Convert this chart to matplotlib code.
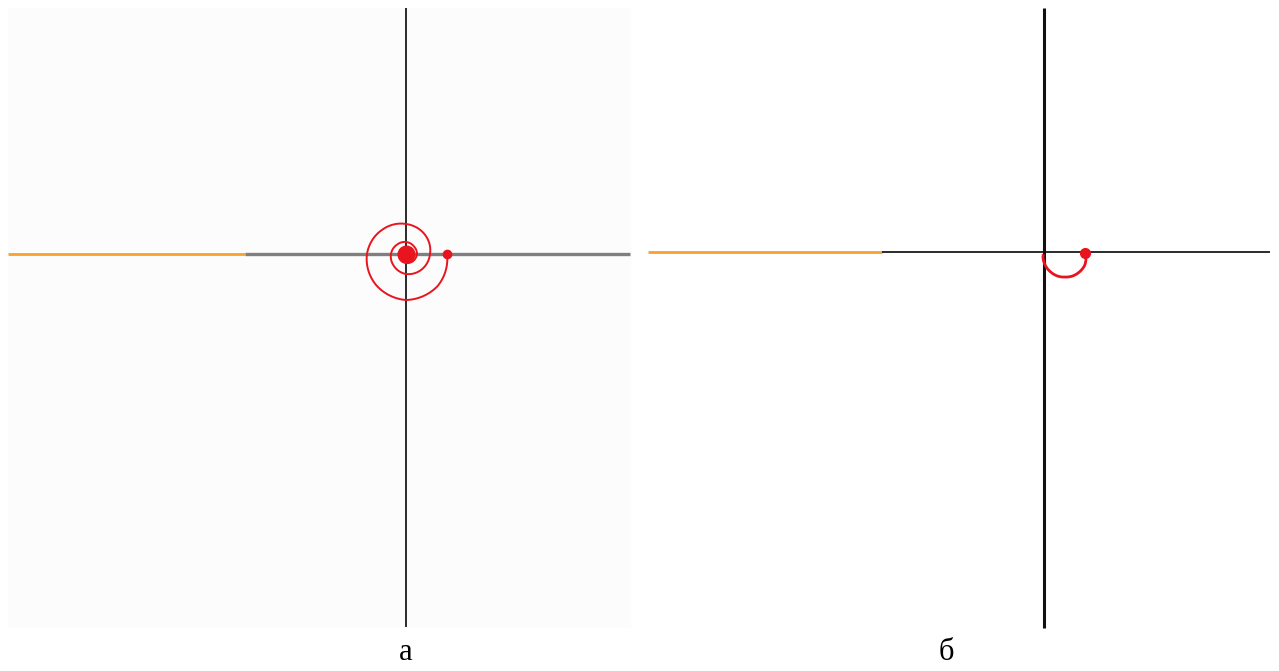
import numpy as np
import matplotlib.pyplot as plt
from matplotlib.patches import Rectangle, PathPatch
from matplotlib.path import Path

W, H = 1279, 671

# ---- axes lines (pixel coordinates of the picture)
left_cx, left_cy = 406, 254
left_orange_x = [8, 245]
left_gray_x = [245, 630]
left_vert_y = [8, 627]

right_cx, right_cy = 1044, 252
right_orange_x = [648, 882]
right_black_x = [882, 1270]
right_vert_y = [8, 628]

# ---- spiral (panel a), polar: angle in degrees, radius in px, centre at crossing
spiral_theta = [0, -45, -90, -135, -180, -225, -270, -315, -360, -405, -450,
                -495, -540, -585, -630, -675, -720, -810, -900, -990, -1080]
spiral_r = [41, 45, 46, 43, 39, 34, 30, 27, 24, 22, 20,
            17, 15, 13, 12, 11, 11, 9, 7, 5, 3]

# ---- arc (panel b), polar around its own centre
arc_cx, arc_cy = 1065, 258
arc_theta = [14, -20, -45, -90, -135, -160, -180, -190]
arc_r = [21, 21, 20, 19, 20, 21, 22, 22]

labels = ['а', 'б']
label_x = [406, 946]
label_y = 652

fig = plt.figure(figsize=(W/100, H/100), dpi=100)
ax = fig.add_axes([0, 0, 1, 1])
ax.set_xlim(0, W)
ax.set_ylim(H, 0)
ax.axis('off')

ax.add_patch(Rectangle((8, 8), 622, 619, color='#fcfcfc', zorder=0))

ax.plot(left_orange_x, [left_cy]*2, color='#f7a22e', linewidth=2.0, solid_capstyle='butt')
ax.plot(left_gray_x, [left_cy]*2, color='#7f7f7f', linewidth=2.4, solid_capstyle='butt')
ax.plot([left_cx]*2, left_vert_y, color='#1a1a1a', linewidth=1.3, solid_capstyle='butt')

ax.plot(right_orange_x, [right_cy]*2, color='#f7a22e', linewidth=2.0, solid_capstyle='butt')
ax.plot(right_black_x, [right_cy]*2, color='#1a1a1a', linewidth=1.3, solid_capstyle='butt')
ax.plot([right_cx]*2, right_vert_y, color='#111111', linewidth=2.2, solid_capstyle='butt')

for t, x in zip(labels, label_x):
    ax.text(x, label_y, t, ha='center', va='center', fontsize=22,
            family=['Liberation Serif', 'DejaVu Serif'])

R = 60
def polar_inset(cx, cy):
    pa = fig.add_axes([(cx - R)/W, 1 - (cy + R)/H, 2*R/W, 2*R/H], projection='polar')
    pa.set_rlim(0, R)
    pa.set_theta_zero_location('E')
    pa.axis('off')
    pa.patch.set_alpha(0)
    return pa

def polar_curve(pa, theta_deg, r, **kw):
    # polar transform bends each segment into an arc when interpolation steps > 1
    verts = np.column_stack([np.deg2rad(theta_deg), r])
    path = Path(verts, _interpolation_steps=40)
    pa.add_patch(PathPatch(path, fill=False, **kw))

pa = polar_inset(left_cx, left_cy)
polar_curve(pa, spiral_theta, spiral_r, edgecolor='#e8141e', linewidth=1.4)
pa.plot([np.deg2rad(spiral_theta[0])], [spiral_r[0]], 'o', color='#e8141e', markersize=6)
pa.plot([0], [0], 'o', color='#e8141e', markersize=12)

pb = polar_inset(arc_cx, arc_cy)
polar_curve(pb, arc_theta, arc_r, edgecolor='#e8141e', linewidth=2.0)
pb.plot([np.deg2rad(arc_theta[0])], [arc_r[0]], 'o', color='#e8141e', markersize=7)

fig.savefig('out.png', dpi=100)
